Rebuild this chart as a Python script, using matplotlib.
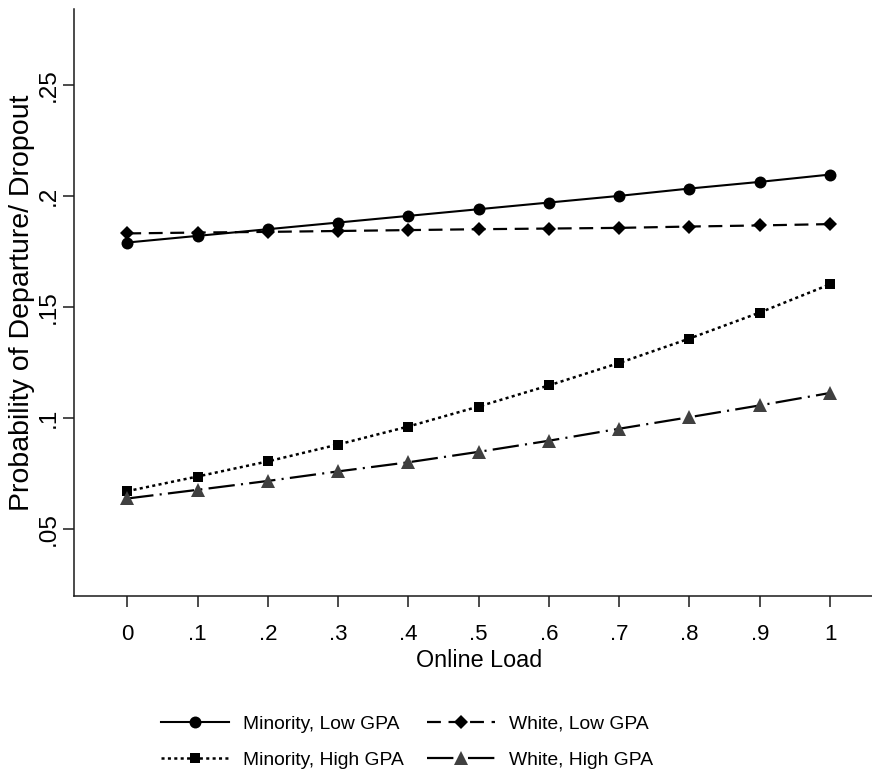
import matplotlib
matplotlib.use("Agg")
import matplotlib.pyplot as plt
import matplotlib.font_manager as fm
from matplotlib.font_manager import FontProperties

# ---------------- data ----------------
online_load = [0, .1, .2, .3, .4, .5, .6, .7, .8, .9, 1]
x_tick_labels = ["0", ".1", ".2", ".3", ".4", ".5", ".6", ".7", ".8", ".9", "1"]
y_ticks = [.05, .1, .15, .2, .25]
y_tick_labels = [".05", ".1", ".15", ".2", ".25"]

minority_low_gpa = [0.179, 0.182, 0.185, 0.188, 0.191, 0.194, 0.197, 0.200, 0.2033, 0.2063, 0.2096]
white_low_gpa = [0.1831, 0.1835, 0.1838, 0.1842, 0.1846, 0.1850, 0.1853, 0.1856, 0.1862, 0.1867, 0.1873]
minority_high_gpa = [0.0671, 0.0737, 0.0805, 0.0881, 0.0962, 0.1052, 0.1147, 0.1248, 0.1358, 0.1475, 0.1602]
white_high_gpa = [0.0638, 0.0677, 0.0717, 0.0760, 0.0801, 0.0848, 0.0898, 0.0952, 0.1004, 0.1057, 0.1113]

series_labels = ["Minority, Low GPA", "Minority, High GPA", "White, Low GPA", "White, High GPA"]
x_title = "Online Load"
y_title = "Probability of Departure/ Dropout"

# ---------------- fonts ----------------
names = {f.name for f in fm.fontManager.ttflist}
if "Liberation Sans Narrow" in names:
    narrow, nscale = "Liberation Sans Narrow", 1.0
else:
    narrow, nscale = "Liberation Sans", 0.84
wide = "Liberation Sans" if "Liberation Sans" in names else "DejaVu Sans"

plt.rcParams["lines.scale_dashes"] = False

fig = plt.figure(figsize=(8.72, 7.78), dpi=100)
ax = fig.add_axes([0.0845, 0.2336, 0.9155, 0.7548])

ink = "#1a1a1a"
l1, = ax.plot(online_load, minority_low_gpa, color="black", lw=1.5, marker="o",
              ms=8.6, mec="black", mew=0, linestyle="-")
l2, = ax.plot(online_load, minority_high_gpa, color="black", lw=1.8, marker="s",
              ms=7.8, mec="black", mew=0, linestyle=(0, (2.2, 2.4)))
l3, = ax.plot(online_load, white_low_gpa, color="black", lw=1.6, marker="D",
              ms=7.2, mec="black", mew=0, linestyle=(0, (10, 5.5)))
l4, = ax.plot(online_load, white_high_gpa, color="black", lw=1.6, marker="^",
              ms=10, mfc="#404040", mec="#404040", mew=0,
              linestyle=(0, (19, 4.5, 1.5, 4.5)))

ax.set_xlim(-0.0762, 1.0597)
ax.set_ylim(0.0198, 0.2841)

ax.set_xticks(online_load)
ax.set_xticklabels(x_tick_labels, fontfamily=narrow, fontsize=16 if nscale < 1 else 17.5)
ax.set_yticks(y_ticks)
ax.set_yticklabels(y_tick_labels, fontfamily=wide, fontsize=17.5, rotation=90, va="center")

ax.tick_params(axis="both", length=7.6, width=1.1, color=ink, labelcolor="black")
ax.tick_params(axis="x", pad=12.5)
ax.tick_params(axis="y", pad=2.5)

for s in ["top", "right"]:
    ax.spines[s].set_visible(False)
for s in ["left", "bottom"]:
    ax.spines[s].set_linewidth(1.1)
    ax.spines[s].set_color(ink)

ax.set_xlabel(x_title, fontfamily=narrow, fontsize=20 * nscale, va="center")
ax.xaxis.set_label_coords(0.5077, -0.1095)
ax.set_ylabel(y_title, fontfamily=wide, fontsize=20.5, va="center")
ax.yaxis.set_label_coords(-0.0648, 0.5)

fig.legend([l1, l2, l3, l4], series_labels, ncol=2, loc="center",
           bbox_to_anchor=(0.4665, 0.0462), frameon=False,
           prop=FontProperties(family=narrow, size=16.5 * nscale),
           handlelength=3.55, handletextpad=0.7, columnspacing=1.2,
           labelspacing=0.95, borderpad=0, numpoints=1)

fig.savefig("out.png", dpi=100, facecolor="white")
